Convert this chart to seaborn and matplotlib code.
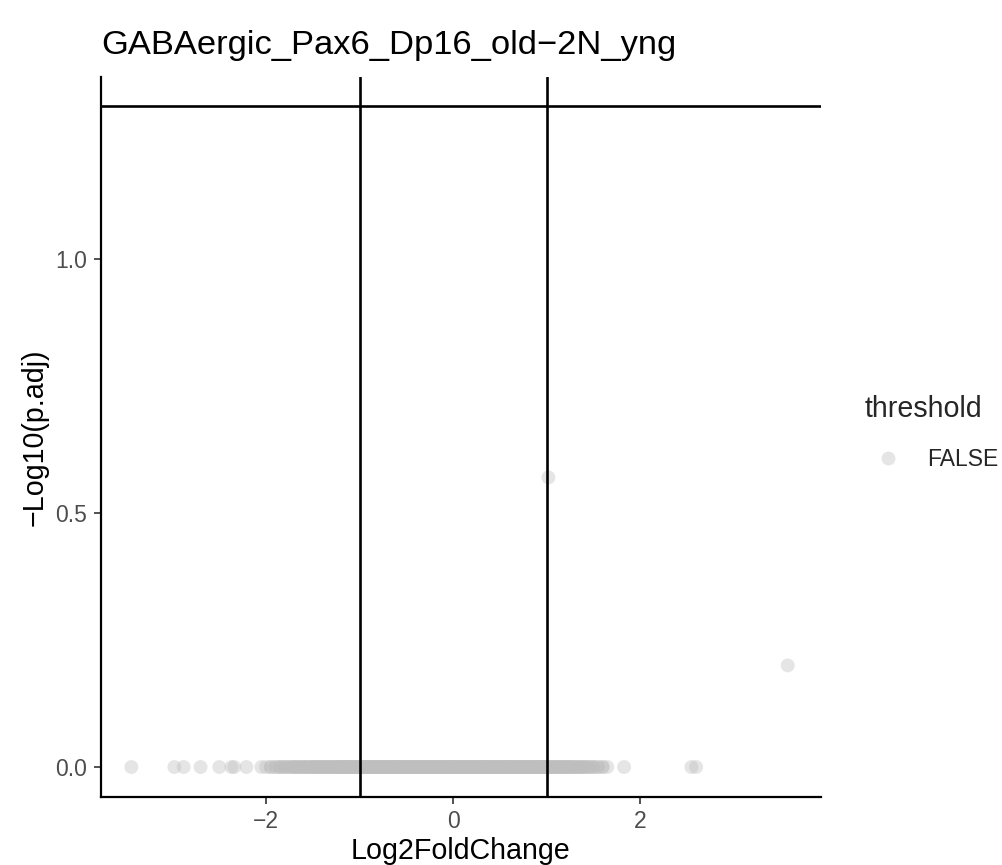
import numpy as np
import pandas as pd
import matplotlib
matplotlib.use("Agg")
import matplotlib.pyplot as plt
from matplotlib.lines import Line2D
import seaborn as sns

# ---------------- data ----------------
title = "GABAergic_Pax6_Dp16_old\u22122N_yng"
x_label = "Log2FoldChange"
y_label = "\u2212Log10(p.adj)"
legend_title = "threshold"
legend_label = "FALSE"

# dense band of genes at -log10(p.adj) = 0 : position and number of genes
band_x = [-2.05, -2.00, -1.95, -1.90, -1.85, -1.80, -1.75, -1.70, -1.65, -1.60,
          -1.55, -1.50, -1.45, -1.40, -1.35, -1.30, -1.25, -1.20, -1.15, -1.10,
          -1.05, -1.00, -0.95, -0.90, -0.85, -0.80, -0.75, -0.70, -0.65, -0.60,
          -0.55, -0.50, -0.45, -0.40, -0.35, -0.30, -0.25, -0.20, -0.15, -0.10,
          -0.05, 0.00, 0.05, 0.10, 0.15, 0.20, 0.25, 0.30, 0.35, 0.40,
          0.45, 0.50, 0.55, 0.60, 0.65, 0.70, 0.75, 0.80, 0.85, 0.90,
          0.95, 1.00, 1.05, 1.10, 1.15, 1.20, 1.25, 1.30, 1.35, 1.40,
          1.45, 1.50, 1.55, 1.60, 1.65]
band_n = [1, 1, 2, 2, 3, 3, 3, 4, 4, 4,
          4, 5, 5, 5, 5, 5, 5, 6, 6, 6,
          6, 6, 6, 6, 6, 6, 6, 6, 6, 6,
          6, 6, 6, 6, 6, 6, 6, 6, 6, 6,
          6, 6, 6, 6, 6, 6, 6, 6, 6, 6,
          6, 6, 6, 6, 6, 6, 6, 6, 6, 6,
          6, 6, 5, 5, 5, 5, 5, 4, 4, 4,
          3, 3, 2, 2, 1]

# isolated genes
single_x = [-3.44, -2.98, -2.88, -2.70, -2.50, -2.37, -2.34, -2.21,
            1.83, 2.55, 2.60, 1.02, 3.58]
single_y = [0.0, 0.0, 0.0, 0.0, 0.0, 0.0, 0.0, 0.0,
            0.0, 0.0, 0.0, 0.57, 0.20]

padj_cut = 0.05
fc_cut = [-1, 1]
x_ticks = [-2, 0, 2]
x_tick_labels = ["\u22122", "0", "2"]
y_ticks = [0.0, 0.5, 1.0]
y_tick_labels = ["0.0", "0.5", "1.0"]

# ---------------- build table ----------------
lfc = list(np.repeat(band_x, band_n)) + single_x
nlp = [0.0] * int(np.sum(band_n)) + single_y
df = pd.DataFrame({"log2FoldChange": lfc, "neglog10padj": nlp})
df["threshold"] = legend_label

# ---------------- plot ----------------
sns.set_theme(style="white")
plt.rcParams["font.family"] = ["Liberation Sans", "DejaVu Sans"]
plt.rcParams["axes.unicode_minus"] = True

W, H = 1003, 865
fig = plt.figure(figsize=(W / 100, H / 100), dpi=100)
ax = fig.add_axes([101 / W, 1 - 797 / H, 720 / W, 720 / H])

grey = "#BEBEBE"
sns.scatterplot(data=df, x="log2FoldChange", y="neglog10padj", hue="threshold",
                palette={legend_label: grey}, alpha=0.4, s=100, linewidth=0,
                legend=False, ax=ax, zorder=2)

ax.axhline(-np.log10(padj_cut), color="black", lw=1.9, zorder=3)
for v in fc_cut:
    ax.axvline(v, color="black", lw=1.9, zorder=3)

ax.set_xlim(-3.765, 3.936)
ax.set_ylim(-0.059, 1.358)
ax.set_xticks(x_ticks)
ax.set_xticklabels(x_tick_labels)
ax.set_yticks(y_ticks)
ax.set_yticklabels(y_tick_labels)

for s in ["top", "right"]:
    ax.spines[s].set_visible(False)
for s in ["left", "bottom"]:
    ax.spines[s].set_color("black")
    ax.spines[s].set_linewidth(1.6)

ax.tick_params(bottom=True, left=True, length=5, width=1.2, color="#333333",
               labelcolor="#4D4D4D", labelsize=16.5)
ax.tick_params(axis="x", pad=4.5)
ax.tick_params(axis="y", pad=5)
ax.set_xlabel(x_label, fontsize=20.6, color="black", labelpad=2.5)
ax.set_ylabel(y_label, fontsize=20.6, color="black", labelpad=5)

fig.text(101 / W, 1 - 54 / H, title, fontsize=24.8, color="black",
         ha="left", va="baseline")

handle = Line2D([], [], marker="o", linestyle="", color=grey, alpha=0.4,
                markersize=10, markeredgewidth=0)
leg = ax.legend([handle], [legend_label], title=legend_title,
                loc="center left", bbox_to_anchor=(865 / W, 1 - 433 / H),
                bbox_transform=fig.transFigure, frameon=False,
                fontsize=16.5, title_fontsize=20.6, borderpad=0,
                handletextpad=0.7, handlelength=2.0, borderaxespad=0,
                labelspacing=1.05)
leg._legend_box.align = "left"

fig.savefig("out.png", dpi=100, facecolor="white")
